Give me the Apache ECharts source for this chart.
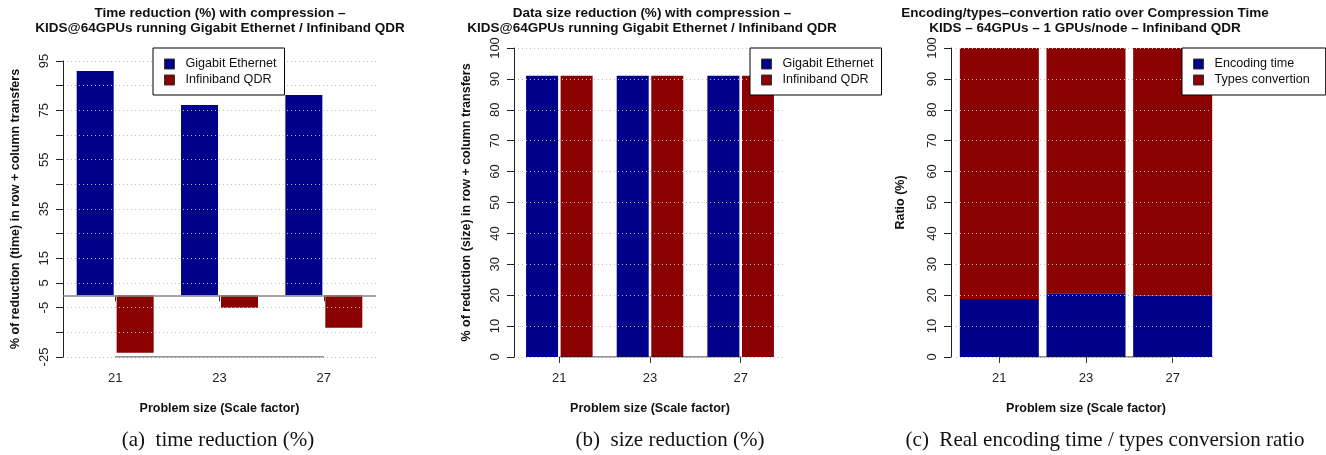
<!DOCTYPE html>
<html>
<head>
<meta charset="utf-8">
<script src="https://cdn.jsdelivr.net/npm/echarts/dist/echarts.min.js"></script>
<style>
html,body{margin:0;padding:0;background:#fff;}
#main{width:1326px;height:455px;}
</style>
</head>
<body>
<div id="main"></div>
<script>
// ---------- data ----------
const categories = ['21', '23', '27'];
const timeGigabit = [90.9, 77.2, 81.2];
const timeInfiniband = [-23.3, -5.0, -13.1];
const sizeGigabit = [91, 91, 91];
const sizeInfiniband = [91, 91, 91];
const encodingTime = [18.8, 20.6, 19.8];
const typesConvertion = [81.2, 79.4, 80.2];
const time_yLabels = [95, 75, 55, 35, 15, 5, -5, -25];

const titles = [
  'Time reduction (%) with compression \u2013\nKIDS@64GPUs running Gigabit Ethernet / Infiniband QDR',
  'Data size reduction (%) with compression \u2013\nKIDS@64GPUs running Gigabit Ethernet / Infiniband QDR',
  'Encoding/types\u2013convertion ratio over Compression Time\nKIDS \u2013 64GPUs \u2013 1 GPUs/node \u2013 Infiniband QDR'
];
const captions = ['(a)  time reduction (%)', '(b)  size reduction (%)', '(c)  Real encoding time / types conversion ratio'];
const yNames = ['% of reduction (time) in row + column transfers', '% of reduction (size) in row + column transfers', 'Ratio (%)'];
const xName = 'Problem size (Scale factor)';

// ---------- style ----------
const BLUE = '#00008B', RED = '#8B0000';
const SANS = '"Liberation Sans", Arial, Helvetica, sans-serif';
const SERIF = '"Liberation Serif", "Times New Roman", serif';

const grids = [
  {left: 63, top: 61, width: 313, height: 296},
  {left: 514, top: 48, width: 272, height: 309},
  {left: 956, top: 48, width: 260, height: 309}
];

function xAxisDef(i) {
  return {
    type: 'category', gridIndex: i, data: categories,
    axisLine: {show: false},
    axisTick: {show: true, alignWithLabel: true, length: 6, lineStyle: {color: '#333'}},
    axisLabel: {fontFamily: SANS, fontSize: 13, color: '#222', margin: 15},
    name: xName, nameLocation: 'middle', nameGap: 45,
    nameTextStyle: {fontFamily: SANS, fontSize: 12.5, fontWeight: 'bold', color: '#111'},
    splitLine: {show: false}
  };
}
function yAxisDef(i, min, max, offset, nameGap, formatter) {
  return {
    type: 'value', gridIndex: i, min: min, max: max, interval: 10, offset: offset, z: 3,
    axisLine: {show: true, lineStyle: {color: '#222', width: 1}},
    axisTick: {show: true, length: 7, lineStyle: {color: '#222'}},
    axisLabel: {fontFamily: SANS, fontSize: 13, color: '#222', rotate: 90, margin: 12, formatter: formatter},
    splitLine: {show: true, lineStyle: {type: [1, 3], color: '#bbb', width: 1}},
    name: yNames[i], nameLocation: 'middle', nameRotate: 90, nameGap: nameGap,
    nameTextStyle: {fontFamily: SANS, fontSize: 12.5, fontWeight: 'bold', color: '#111'}
  };
}

function legendDef(left, top, names, padRight) {
  return {
    left: left, top: top, orient: 'vertical',
    data: names,
    backgroundColor: '#fff', borderColor: '#000', borderWidth: 1,
    padding: [8, padRight, 7, 11], itemGap: 0, itemWidth: 10, itemHeight: 10,
    icon: 'rect',
    itemStyle: {borderColor: '#333', borderWidth: 1},
    textStyle: {fontFamily: SANS, fontSize: 12.6, color: '#111', lineHeight: 16, padding: [0, 0, 0, 6]},
    selectedMode: false, z: 10
  };
}

// axis segment drawn from first to last category (as R does)
function axisSegSeries(xi, yVal) {
  return {
    name: '_axis' + xi, type: 'line', xAxisIndex: xi, yAxisIndex: xi,
    data: [[categories[0], yVal], [categories[categories.length - 1], yVal]],
    symbol: 'none', silent: true, z: 4,
    lineStyle: {color: '#222', width: 1}
  };
}

const titleStyle = {fontFamily: SANS, fontSize: 13.5, fontWeight: 'bold', color: '#111', lineHeight: 15};
const capStyle = {fontFamily: SERIF, fontSize: 21, fontWeight: 'normal', color: '#111', lineHeight: 22};

const option = {
  animation: false,
  backgroundColor: '#fff',
  title: [
    {text: titles[0], left: 220, top: 6, padding: 0, textAlign: 'center', textStyle: titleStyle},
    {text: titles[1], left: 652, top: 6, padding: 0, textAlign: 'center', textStyle: titleStyle},
    {text: titles[2], left: 1085, top: 6, padding: 0, textAlign: 'center', textStyle: titleStyle},
    {text: captions[0], left: 218, top: 429, padding: 0, textAlign: 'center', textStyle: capStyle},
    {text: captions[1], left: 670, top: 429, padding: 0, textAlign: 'center', textStyle: capStyle},
    {text: captions[2], left: 1105, top: 429, padding: 0, textAlign: 'center', textStyle: capStyle}
  ],
  legend: [
    legendDef(153, 48, ['Gigabit Ethernet', 'Infiniband QDR'], 8),
    legendDef(750, 48, ['Gigabit Ethernet', 'Infiniband QDR'], 8),
    legendDef(1182, 48, ['Encoding time', 'Types convertion'], 16)
  ],
  grid: grids,
  xAxis: [xAxisDef(0), xAxisDef(1), xAxisDef(2)],
  yAxis: [
    yAxisDef(0, -25, 95, 0, 41, v => (time_yLabels.indexOf(v) >= 0 ? String(v) : '')),
    yAxisDef(1, 0, 100, 0, 41, v => String(v)),
    yAxisDef(2, 0, 100, 5, 44, v => String(v))
  ],
  series: [
    {
      name: 'Gigabit Ethernet', type: 'bar', xAxisIndex: 0, yAxisIndex: 0, data: timeGigabit,
      barWidth: 37, barGap: '8%', itemStyle: {color: BLUE},
      markLine: {
        silent: true, symbol: 'none', label: {show: false},
        lineStyle: {color: '#888', width: 1.5, type: 'solid'},
        data: [{yAxis: 0}]
      }
    },
    {
      name: 'Infiniband QDR', type: 'bar', xAxisIndex: 0, yAxisIndex: 0, data: timeInfiniband,
      barWidth: 37, barGap: '8%', itemStyle: {color: RED}
    },
    {
      name: 'Gigabit Ethernet', type: 'bar', xAxisIndex: 1, yAxisIndex: 1, data: sizeGigabit,
      barWidth: 32, barGap: '8%', itemStyle: {color: BLUE}
    },
    {
      name: 'Infiniband QDR', type: 'bar', xAxisIndex: 1, yAxisIndex: 1, data: sizeInfiniband,
      barWidth: 32, barGap: '8%', itemStyle: {color: RED}
    },
    {
      name: 'Encoding time', type: 'bar', stack: 'ratio', xAxisIndex: 2, yAxisIndex: 2, data: encodingTime,
      barWidth: 79, itemStyle: {color: BLUE}
    },
    {
      name: 'Types convertion', type: 'bar', stack: 'ratio', xAxisIndex: 2, yAxisIndex: 2, data: typesConvertion,
      barWidth: 79, itemStyle: {color: RED}
    },
    axisSegSeries(0, -25),
    axisSegSeries(1, 0),
    axisSegSeries(2, 0)
  ]
};

const chart = echarts.init(document.getElementById('main'), null, {renderer: 'canvas'});
chart.setOption(option);
</script>
</body>
</html>
